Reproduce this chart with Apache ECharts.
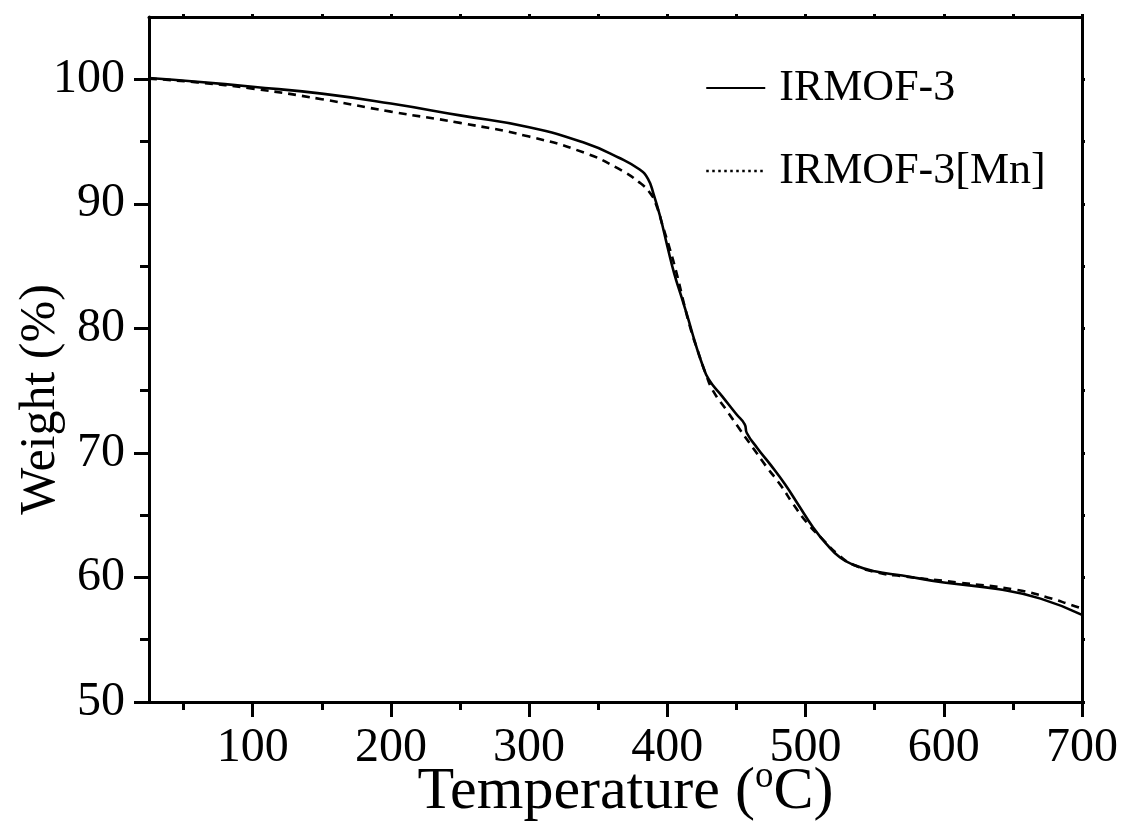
<!DOCTYPE html>
<html>
<head>
<meta charset="utf-8">
<script src="https://cdn.jsdelivr.net/npm/echarts@6/dist/echarts.min.js"></script>
<style>
html,body{margin:0;padding:0;background:#fff;}
#chart{width:1123px;height:838px;}
</style>
</head>
<body>
<div id="chart"></div>
<script>
// ---- data ----
const seriesNames = ['IRMOF-3', 'IRMOF-3[Mn]'];
const tempA = [25,60,100,150,200,250,300,340,365,380,386,390,395,400,405,410,415,420,425,430,440,450,456,457.5,465,475,485,495,505,515,525,535,550,570,600,640,670,700];
const weightA = [100.1,99.8,99.4,98.85,98.05,97.1,96.15,94.9,93.7,92.75,92.0,90.8,88.9,86.6,84.4,82.6,80.8,78.9,77.2,75.9,74.5,73.1,72.3,71.6,70.4,69.0,67.5,65.8,64.1,62.7,61.6,61.0,60.5,60.15,59.6,59.05,58.3,57.0];
const tempB = [25,60,100,150,200,250,300,340,365,380,388,392,397,402,407,412,417,422,428,433,443,453,462,471,482,491,501,512,524,535,552,570,610,653,675,692,700];
const weightB = [100.05,99.75,99.25,98.4,97.4,96.5,95.4,94.1,92.8,91.7,90.8,89.9,88.1,86.3,84.3,82.0,79.9,78.2,76.3,75.0,73.4,71.8,70.4,69.0,67.4,65.9,64.4,63.1,61.8,61.0,60.4,60.1,59.6,59.0,58.4,57.8,57.5];
const xMajorTicks = [100,200,300,400,500,600,700];
const xMinorTicks = [50,150,250,350,450,550,650];
const yMajorTicks = [50,60,70,80,90,100];
const yMinorTicks = [55,65,75,85,95];
const xRange = [25, 700];
const yRange = [50, 105];

// ---- chart ----
const FONT = 'Liberation Serif';
const chart = echarts.init(document.getElementById('chart'), null, {renderer: 'canvas'});
const gridRect = {left: 149, right: 41, top: 17, bottom: 136, containLabel: false, outerBoundsMode: 'none'};

function pairs(xs, ys) { return xs.map((x, i) => [x, ys[i]]); }

const lineCol = '#000';
function xAx(grid, pos, opts) {
  return Object.assign({
    type: 'value', gridIndex: grid, position: pos, min: xRange[0], max: xRange[1],
    splitLine: {show: false},
    axisLine: {show: true, onZero: false, lineStyle: {color: lineCol, width: 3}},
    axisLabel: {show: false},
    axisTick: {show: false}
  }, opts);
}
function yAx(grid, pos, opts) {
  return Object.assign({
    type: 'value', gridIndex: grid, position: pos, min: yRange[0], max: yRange[1],
    splitLine: {show: false},
    axisLine: {show: true, onZero: false, lineStyle: {color: lineCol, width: 3}},
    axisLabel: {show: false},
    axisTick: {show: false}
  }, opts);
}

const option = {
  backgroundColor: '#fff',
  animation: false,
  grid: [Object.assign({}, gridRect), Object.assign({}, gridRect)],
  xAxis: [
    xAx(0, 'bottom', {
      name: 'Temperature ({sup|o}C)',
      nameLocation: 'middle', nameGap: 57, nameMoveOverlap: false,
      nameTextStyle: {fontFamily: FONT, fontSize: 60, color: '#000', padding: [0, 0, 0, 20],
        rich: {sup: {fontFamily: FONT, fontSize: 37, color: '#000', padding: [0, 0, 29, 0]}}},
      axisTick: {show: true, inside: false, length: 15, customValues: xMajorTicks, lineStyle: {color: lineCol, width: 3}},
      axisLabel: {show: true, margin: 22, customValues: xMajorTicks, fontFamily: FONT, fontSize: 48, color: '#000'}
    }),
    xAx(0, 'top', {
      axisTick: {show: true, inside: false, length: 3, customValues: xMajorTicks, lineStyle: {color: lineCol, width: 3}}
    }),
    xAx(1, 'bottom', {
      axisLine: {show: false},
      axisTick: {show: true, inside: false, length: 8, customValues: xMinorTicks, lineStyle: {color: lineCol, width: 3}}
    }),
    xAx(1, 'top', {
      axisLine: {show: false},
      axisTick: {show: true, inside: false, length: 3, customValues: xMinorTicks, lineStyle: {color: lineCol, width: 3}}
    })
  ],
  yAxis: [
    yAx(0, 'left', {
      name: 'Weight (%)',
      nameLocation: 'middle', nameGap: 83, nameRotate: 90, nameMoveOverlap: false,
      nameTextStyle: {fontFamily: FONT, fontSize: 50, color: '#000', padding: [0, 80, 0, 0]},
      axisTick: {show: true, inside: false, length: 15, customValues: yMajorTicks, lineStyle: {color: lineCol, width: 3}},
      axisLabel: {show: true, margin: 24, customValues: yMajorTicks, fontFamily: FONT, fontSize: 48, color: '#000'}
    }),
    yAx(0, 'right', {
      axisTick: {show: true, inside: false, length: 3, customValues: yMajorTicks, lineStyle: {color: lineCol, width: 3}}
    }),
    yAx(1, 'left', {
      axisLine: {show: false},
      axisTick: {show: true, inside: false, length: 9, customValues: yMinorTicks, lineStyle: {color: lineCol, width: 3}}
    }),
    yAx(1, 'right', {
      axisLine: {show: false},
      axisTick: {show: true, inside: false, length: 3, customValues: yMinorTicks, lineStyle: {color: lineCol, width: 3}}
    })
  ],
  legend: {
    orient: 'vertical', left: 705, top: 63, padding: 0,
    itemWidth: 59, itemHeight: 14, itemGap: 33,
    itemStyle: {opacity: 0},
    textStyle: {fontFamily: FONT, fontSize: 44, color: '#000', padding: [0, 0, 0, 9], lineHeight: 50},
    data: [
      {name: seriesNames[0]},
      {name: seriesNames[1], lineStyle: {type: [2.5, 3.5], width: 2.5}}
    ]
  },
  series: [
    {
      name: seriesNames[0], type: 'line', xAxisIndex: 0, yAxisIndex: 0,
      data: pairs(tempA, weightA), showSymbol: false, symbol: 'none',
      smooth: 0.5,
      lineStyle: {color: '#000', width: 2.6, type: 'solid'},
      itemStyle: {color: '#000'}
    },
    {
      name: seriesNames[1], type: 'line', xAxisIndex: 0, yAxisIndex: 0,
      data: pairs(tempB, weightB), showSymbol: false, symbol: 'none',
      smooth: 0.5,
      lineStyle: {color: '#000', width: 2.6, type: [8, 6]},
      itemStyle: {color: '#000'}
    }
  ]
};
chart.setOption(option);
</script>
</body>
</html>
